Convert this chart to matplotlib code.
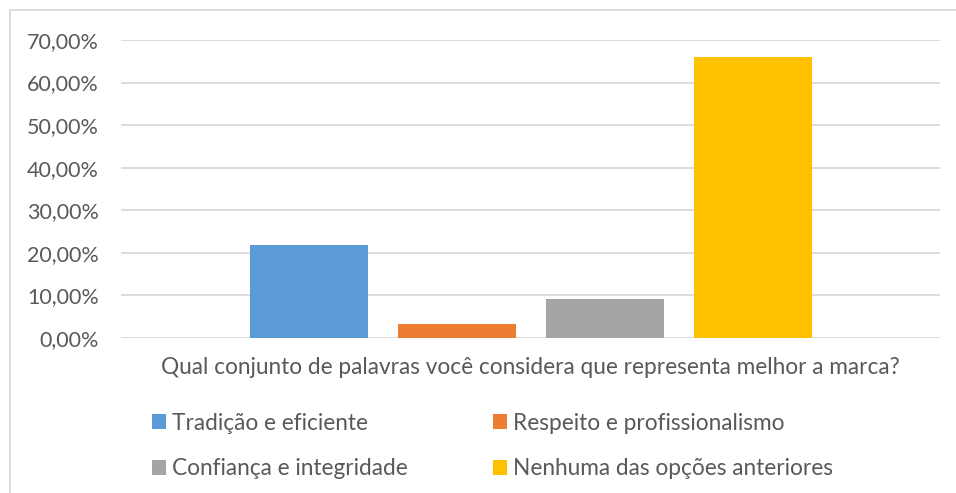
import matplotlib.pyplot as plt
from matplotlib.patches import Rectangle
from matplotlib.ticker import FuncFormatter

series = ["Tradição e eficiente", "Respeito e profissionalismo",
          "Confiança e integridade", "Nenhuma das opções anteriores"]
values = [21.88, 3.3, 9.2, 65.9]
colors = ["#5b9bd5", "#ed7d31", "#a5a5a5", "#ffc000"]
question = "Qual conjunto de palavras você considera que representa melhor a marca?"
yticks = [0, 10, 20, 30, 40, 50, 60, 70]

plt.rcParams['font.family'] = ['Lato', 'DejaVu Sans']
txt = '#595959'
fs = 16.3

fig = plt.figure(figsize=(9.56, 4.93), dpi=100)
ax = fig.add_axes([121 / 956, 1 - 338 / 493, 819 / 956, 298 / 493])

# bars of one category, placed like Excel clustered columns
width = 0.144
step = 0.181
start = 0.229
bars = []
for i, (name, v, c) in enumerate(zip(series, values, colors)):
    b = ax.bar(start + i * step, v, width=width, color=c, label=name, zorder=3)
    bars.append(b)

ax.set_xlim(0, 1)
ax.set_ylim(0, 70)
ax.set_yticks(yticks)
ax.yaxis.set_major_formatter(FuncFormatter(lambda v, p: f"{v:.2f}%".replace('.', ',')))
ax.set_xticks([])
ax.grid(axis='y', color='#d9d9d9', linewidth=1.3, zorder=0)
for s in ax.spines.values():
    s.set_visible(False)
ax.tick_params(axis='y', length=0, pad=16, labelsize=15.5, labelcolor=txt)

ax.text(0.5, -30 / 298, question, transform=ax.transAxes, ha='center', va='center',
        fontsize=fs, color=txt)

# row-major order like the Excel legend
order = [0, 2, 1, 3]
leg = fig.legend([bars[i] for i in order], [series[i] for i in order], ncol=2,
                 loc='center left', bbox_to_anchor=(132 / 956, 1 - 446 / 493),
                 frameon=False, fontsize=fs, labelcolor=txt,
                 handlelength=0.6, handleheight=0.6, handletextpad=0.25,
                 columnspacing=3.8, labelspacing=1.1)

fig.add_artist(Rectangle((10 / 956, -0.1), 1.2, 1 - 10.5 / 493 + 0.1, fill=False,
                         ec='#d9d9d9', lw=1.3, transform=fig.transFigure))

fig.savefig("out.png", dpi=100)
